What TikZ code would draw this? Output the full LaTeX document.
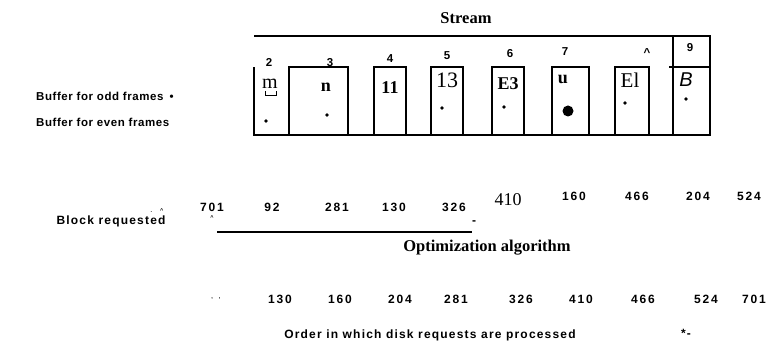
\documentclass[tikz,border=0pt]{standalone}
\usepackage{fontspec}
\setmainfont{Liberation Serif}
\newfontfamily\sansls[LetterSpace=10]{Liberation Sans}
\newfontfamily\sansbuf[LetterSpace=5]{Liberation Sans}
\newfontfamily\sansnum[LetterSpace=15]{Liberation Sans}
\newfontfamily\sanspl{Liberation Sans}
\begin{document}
\begin{tikzpicture}[x=1pt,y=-1pt,
  lab/.style={font=\sansls\bfseries\fontsize{12}{13}\selectfont, inner sep=0pt},
  buf/.style={font=\sansbuf\bfseries\fontsize{11.5}{13}\selectfont, inner sep=0pt},
  num/.style={font=\sansnum\bfseries\fontsize{12}{13}\selectfont, inner sep=0pt},
  colnum/.style={font=\sanspl\bfseries\fontsize{11.5}{12}\selectfont, inner sep=0pt},
  title/.style={font=\bfseries\fontsize{16.5}{18}\selectfont, inner sep=0pt},
  boldtxt/.style={font=\bfseries\fontsize{18}{20}\selectfont, inner sep=0pt},
  regtxt/.style={font=\fontsize{21}{22}\selectfont, inner sep=0pt},
  tiny/.style={font=\sanspl\bfseries\fontsize{5.5}{6}\selectfont, inner sep=0pt},
  frame/.style={line width=1.2pt},
  smalldot/.style={fill, circle, inner sep=0pt, minimum size=3.8pt},
  bigdot/.style={fill, circle, inner sep=0pt, minimum size=11pt}]
\useasboundingbox (0,0) rectangle (769,347);

% Stream frame
\draw[frame] (254,36) -- (710,36) -- (710,135) -- (254,135) -- (254,67);
\draw[frame] (673,36) -- (673,135);
\draw[frame] (669,67) -- (710,67);
\draw[frame] (289,67) rectangle (348,135);
\draw[frame] (374,67) rectangle (406,135);
\draw[frame] (431,67) rectangle (463,135);
\draw[frame] (492,67) rectangle (524,135);
\draw[frame] (552,67) rectangle (589,135);
\draw[frame] (615,67) rectangle (649,135);

\node[title] (stream) at (466,18) {Stream};

% column numbers
\node[colnum] (c2) at (269,62) {2};
\node[colnum] (c3) at (330,63) {3};
\node[colnum] (c4) at (390,59) {4};
\node[colnum] (c5) at (447,56) {5};
\node[colnum] (c6) at (510,54) {6};
\node[colnum] (c7) at (565,52) {7};
\node[colnum] (c8) at (647,53) {\textasciicircum};
\node[colnum] (c9) at (690,48) {9};

% box contents
\node[font=\fontsize{20}{22}\selectfont, inner sep=0pt] (tm) at (270,84) {m};
\draw[line width=1pt] (265,91) -- (265,96) -- (276,96) -- (276,91);
\node[smalldot] (d2) at (266,121) {};
\node[boldtxt] (tn) at (326,87) {n};
\node[smalldot] (d3) at (327,115) {};
\node[boldtxt] (t11) at (390,88) {11};
\node[font=\fontsize{22}{24}\selectfont, inner sep=0pt] (t13) at (447,80) {13};
\node[smalldot] (d5) at (442,108) {};
\node[boldtxt] (te3) at (508,84) {E3};
\node[smalldot] (d6) at (504,107) {};
\node[boldtxt] (tu) at (563,79) {u};
\node[bigdot] (d7) at (568,111) {};
\node[regtxt] (tel) at (630,80) {El};
\node[smalldot] (d8) at (625,103) {};
\node[font=\sanspl\itshape\fontsize{20}{22}\selectfont, inner sep=0pt] (tb) at (686,80) {B};
\node[smalldot] (d9) at (686,99) {};

% left labels
\node[buf, anchor=west] (odd) at (36,96) {Buffer for odd frames\hspace{6pt}•};
\node[buf, anchor=west] (even) at (36,122) {Buffer for even frames};

% block requested row
\node[lab] (blk) at (111,221) {Block requested};
\node[tiny] (mk1) at (157,211) {.\hspace{8pt}\textasciicircum};
\node[num] (r1) at (212,207) {701};
\node[tiny] (mk2) at (212,218) {\textasciicircum};
\node[num] (r2) at (272,207) {92};
\node[num] (r3) at (337,207) {281};
\node[num] (r4) at (394,207) {130};
\node[num] (r5) at (454,207) {326};
\node[font=\fontsize{18}{20}\selectfont, inner sep=0pt] (r6) at (508,200) {410};
\node[num] (r7) at (574,196) {160};
\node[num] (r8) at (637,196) {466};
\node[num] (r9) at (698,196) {204};
\node[num] (r10) at (749,196) {524};
\coordinate (ls) at (217,232);
\coordinate (le) at (472,232);
\draw[line width=2pt] (ls) -- (le);
\node[lab] (dash1) at (474,223) {-};

\node[title] (opt) at (487,248) {Optimization algorithm};

% processed order row
\node[tiny] (mk3) at (216,299) {,\hspace{6pt},};
\node[num] (o1) at (280,299) {130};
\node[num] (o2) at (340,299) {160};
\node[num] (o3) at (400,299) {204};
\node[num] (o4) at (456,299) {281};
\node[num] (o5) at (521,299) {326};
\node[num] (o6) at (581,299) {410};
\node[num] (o7) at (643,299) {466};
\node[num] (o8) at (706,299) {524};
\node[num] (o9) at (754,299) {701};

\node[lab] (order) at (430,335) {Order in which disk requests are processed};
\node[lab] (star) at (686,333) {*-};
\end{tikzpicture}
\end{document}
